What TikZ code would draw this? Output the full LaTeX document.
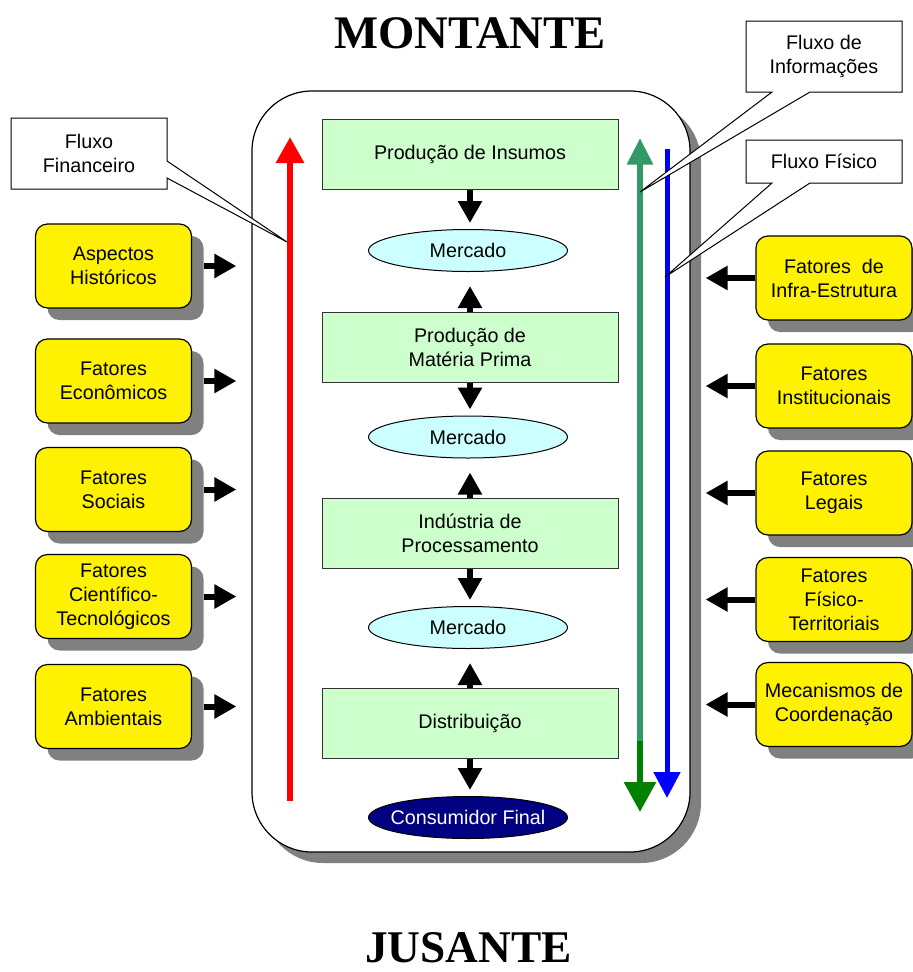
\documentclass[tikz,border=0pt]{standalone}
\usepackage{fontspec}
\setmainfont{Liberation Sans}
\newfontfamily\titlefont{Liberation Serif}
\usetikzlibrary{arrows.meta,shadows,shapes.geometric,calc}

\definecolor{shgrey}{HTML}{808080}
\definecolor{boxgreen}{HTML}{CCFFCC}
\definecolor{mktcyan}{HTML}{CCFFFF}
\definecolor{navyfill}{HTML}{000080}
\definecolor{seagreen}{HTML}{339966}
\definecolor{darkgreen}{HTML}{008000}

\tikzset{
  txt/.style={font=\fontsize{14.8}{18}\selectfont, align=center},
  frame/.style={draw=black, line width=0.9pt, fill=white, rectangle,
    rounded corners=45pt, minimum width=328.5pt, minimum height=570.75pt,
    general shadow={fill=shgrey, draw=none, shadow xshift=8.25pt, shadow yshift=-8.25pt}},
  gbox/.style={txt, draw=black!80, line width=0.75pt, fill=boxgreen, rectangle,
    minimum width=222pt, minimum height=52.5pt, inner sep=0pt},
  ybox/.style={txt, draw=black, line width=0.9pt, fill=yellow, rectangle,
    rounded corners=9pt, minimum width=117pt, minimum height=63pt, inner sep=0pt,
    general shadow={fill=shgrey, draw=none, shadow xshift=9pt, shadow yshift=-9pt}},
  mkt/.style={txt, draw=black, line width=0.75pt, fill=mktcyan, ellipse,
    minimum width=149.25pt, minimum height=31.5pt, inner sep=0pt},
  consumer/.style={mkt, fill=navyfill, text=white},
  blk/.style={draw=black, line width=4.5pt,
    -{Triangle[length=16.5pt,width=17.25pt]}},
  callout/.style={draw=black, line width=0.75pt, fill=white, line join=miter},
  titletxt/.style={font=\titlefont\bfseries\fontsize{35}{40}\selectfont, anchor=base},
}

\begin{document}
\begin{tikzpicture}[x=0.75pt,y=-0.75pt]
\useasboundingbox (0,0) rectangle (913,972);

% titles
\node[titletxt] (mont) at (470,48) {MONTANTE};
\node[titletxt, font=\titlefont\bfseries\fontsize{34}{40}\selectfont] (jus) at (468.5,962) {JUSANTE};

% the chain frame
\node[frame] (frame) at (471,471.5) {};

% flow arrows inside the frame
\coordinate (redB) at (290,801);
\coordinate (redT) at (290,137);
\draw[red, line width=4.5pt, -{Triangle[length=19.5pt,width=20.25pt]}] (redB) -- (redT);

\coordinate (grnT) at (640,138);
\coordinate (grnM) at (640,741);
\coordinate (grnB) at (640,812);
\draw[seagreen, line width=4.5pt, -{Triangle[length=20pt,width=18.75pt]}] (grnM) -- (grnT);
\draw[darkgreen, line width=4.5pt, -{Triangle[length=22.5pt,width=23.25pt]}] (grnM) -- (grnB);

\coordinate (bluT) at (667,149);
\coordinate (bluB) at (667,798);
\draw[blue, line width=3.75pt, -{Triangle[length=19.5pt,width=19.5pt]}] (bluT) -- (bluB);

% production stages
\node[gbox] (b1) at (470,154) {Produção de Insumos};
\node[gbox] (b2) at (470,347.5) {Produção de\\Matéria Prima};
\node[gbox] (b3) at (470,533) {Indústria de\\Processamento};
\node[gbox] (b4) at (470,723) {Distribuição};

% markets
\node[mkt] (m1) at (468,250.5) {\makebox[0pt]{Mercado}};
\node[mkt] (m2) at (468,437) {\makebox[0pt]{Mercado}};
\node[mkt] (m3) at (468,627.5) {\makebox[0pt]{Mercado}};
\node[consumer] (cf) at (468,817.5) {\makebox[0pt]{Consumidor Final}};

% stage -> market arrows
\foreach \b/\m in {b1/m1, b2/m2, b3/m3, b4/cf}
  \draw[blk] (\b.south) -- ([yshift=4.5pt]\b.south |- \m.north);
\foreach \b/\m in {b2/m1, b3/m2, b4/m3}
  \draw[blk] (\b.north) -- ([yshift=-10.5pt]\b.north |- \m.south);

% factors on the left
\node[ybox] (asp) at (113.5,266) {Aspectos\\Históricos};
\node[ybox] (eco) at (113.5,381) {Fatores\\Econômicos};
\node[ybox] (soc) at (113.5,489.5) {Fatores\\Sociais};
\node[ybox] (cie) at (113.5,596.5) {Fatores\\Científico-\\Tecnológicos};
\node[ybox] (amb) at (113.5,706.5) {Fatores\\Ambientais};

\foreach \f in {asp,eco,soc,cie,amb}
  \draw[blk] ([xshift=9pt]\f.east) -- ([xshift=-11.25pt]\f.east -| frame.west);

% factors on the right
\node[ybox] (inf) at (834,278) {Fatores~ de\\Infra-Estrutura};
\node[ybox] (ins) at (834,386) {Fatores\\Institucionais};
\node[ybox] (leg) at (834,493) {Fatores\\Legais};
\node[ybox] (fis) at (834,599.5) {Fatores\\Físico-\\Territoriais};
\node[ybox] (mec) at (834,704.5) {Mecanismos de\\Coordenação};

\foreach \f in {inf,ins,leg,fis,mec}
  \draw[blk] (\f.west) -- ([xshift=11.25pt]\f.west -| frame.east);

% callouts naming the flows
\draw[callout] (11,118) -- (167,118) -- (167,161) -- (287,242) -- (167,178)
  -- (167,189) -- (11,189) -- cycle;
\node[txt] (cfin) at (89,153.5) {Fluxo\\Financeiro};

\draw[callout] (746,21) -- (902,21) -- (902,92) -- (810,92) -- (640,192)
  -- (772,92) -- (746,92) -- cycle;
\node[txt] (cinf) at (824,56.5) {Fluxo de\\Informações};

\draw[callout] (746,140) -- (902,140) -- (902,183) -- (810,183) -- (665,277)
  -- (772,183) -- (746,183) -- cycle;
\node[txt] (cfis) at (824,161.5) {Fluxo Físico};
\end{tikzpicture}
\end{document}
